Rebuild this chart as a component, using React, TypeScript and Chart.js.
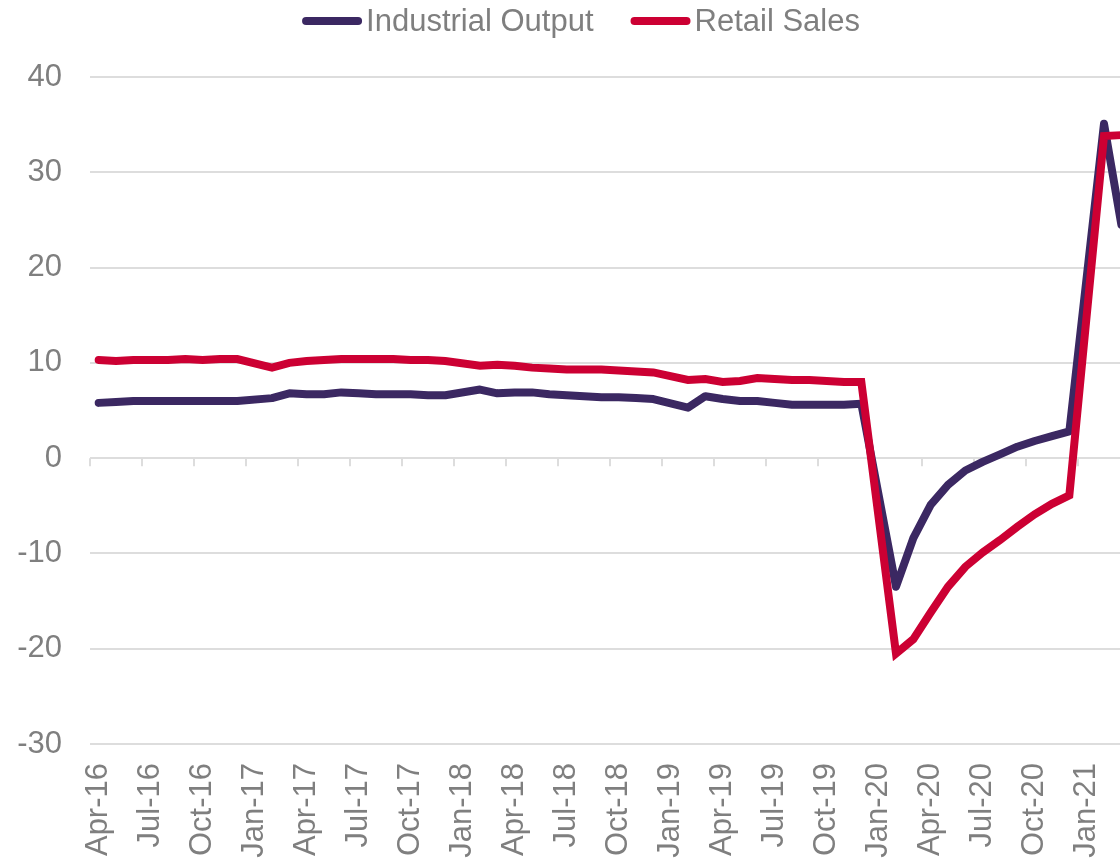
import React, { useEffect, useRef } from "react";
import { Chart, registerables } from "chart.js";

Chart.register(...registerables);

const MONTHS = ["Jan", "Feb", "Mar", "Apr", "May", "Jun", "Jul", "Aug", "Sep", "Oct", "Nov", "Dec"];

// Categories: Apr-16 .. Mar-21
const categories: string[] = [];
for (let y = 16; y <= 21; y++) {
  for (let m = 0; m < 12; m++) {
    if (y === 16 && m < 3) continue;
    if (y === 21 && m > 2) continue;
    categories.push(`${MONTHS[m]}-${y}`);
  }
}

// Year-to-date growth (%); January has no separate figure (null)
const industrialOutput: (number | null)[] = [
  // 2016 Apr-Dec
  5.8, 5.9, 6.0, 6.0, 6.0, 6.0, 6.0, 6.0, 6.0,
  // 2017
  null, 6.3, 6.8, 6.7, 6.7, 6.9, 6.8, 6.7, 6.7, 6.7, 6.6, 6.6,
  // 2018
  null, 7.2, 6.8, 6.9, 6.9, 6.7, 6.6, 6.5, 6.4, 6.4, 6.3, 6.2,
  // 2019
  null, 5.3, 6.5, 6.2, 6.0, 6.0, 5.8, 5.6, 5.6, 5.6, 5.6, 5.7,
  // 2020
  null, -13.5, -8.4, -4.9, -2.8, -1.3, -0.4, 0.4, 1.2, 1.8, 2.3, 2.8,
  // 2021
  null, 35.1, 24.5,
];

const retailSales: (number | null)[] = [
  // 2016 Apr-Dec
  10.3, 10.2, 10.3, 10.3, 10.3, 10.4, 10.3, 10.4, 10.4,
  // 2017
  null, 9.5, 10.0, 10.2, 10.3, 10.4, 10.4, 10.4, 10.4, 10.3, 10.3, 10.2,
  // 2018
  null, 9.7, 9.8, 9.7, 9.5, 9.4, 9.3, 9.3, 9.3, 9.2, 9.1, 9.0,
  // 2019
  null, 8.2, 8.3, 8.0, 8.1, 8.4, 8.3, 8.2, 8.2, 8.1, 8.0, 8.0,
  // 2020
  null, -20.5, -19.0, -16.2, -13.5, -11.4, -9.9, -8.6, -7.2, -5.9, -4.8, -3.9,
  // 2021
  null, 33.8, 33.9,
];

const seriesNames = ["Industrial Output", "Retail Sales"];
const seriesColors = ["#3b2862", "#cc0033"];

const FONT = "'Liberation Sans', Arial, sans-serif";
const TEXT_COLOR = "#7f7f7f";
const GRID_COLOR = "#dddddd";

const legendPlugin = {
  id: "customLegend",
  afterDraw(chart: any) {
    const ctx = chart.ctx;
    ctx.save();
    ctx.font = `31px ${FONT}`;
    const lineLen = 60;
    const gapText = 4;
    const gapItem = 37;
    const widths = seriesNames.map((n) => lineLen + gapText + ctx.measureText(n).width);
    const total = widths.reduce((a, b) => a + b, 0) + gapItem * (widths.length - 1);
    let x = 581 - total / 2;
    const y = 21;
    seriesNames.forEach((name, i) => {
      ctx.strokeStyle = seriesColors[i];
      ctx.lineWidth = 8;
      ctx.lineCap = "round";
      ctx.beginPath();
      ctx.moveTo(x + 4, y);
      ctx.lineTo(x + lineLen - 4, y);
      ctx.stroke();
      ctx.fillStyle = TEXT_COLOR;
      ctx.textBaseline = "alphabetic";
      ctx.textAlign = "left";
      ctx.fillText(name, x + lineLen + gapText, y + 10);
      x += widths[i] + gapItem;
    });
    ctx.restore();
  },
};

const zeroTicksPlugin = {
  id: "zeroTicks",
  beforeDatasetsDraw(chart: any) {
    const xs = chart.scales.x;
    const ys = chart.scales.y;
    const ctx = chart.ctx;
    const half = (xs.getPixelForValue(1) - xs.getPixelForValue(0)) / 2;
    const y0 = ys.getPixelForValue(0);
    ctx.save();
    ctx.strokeStyle = GRID_COLOR;
    ctx.lineWidth = 2;
    for (let i = 0; i <= categories.length; i += 3) {
      const x = Math.round(xs.getPixelForValue(i) - half);
      ctx.beginPath();
      ctx.moveTo(x, y0);
      ctx.lineTo(x, y0 + 8);
      ctx.stroke();
    }
    ctx.restore();
  },
};

export default function App() {
  const canvasRef = useRef<HTMLCanvasElement | null>(null);

  useEffect(() => {
    if (!canvasRef.current) return;
    const chart = new Chart(canvasRef.current, {
      type: "line",
      data: {
        labels: categories,
        datasets: [
          {
            label: seriesNames[0],
            data: industrialOutput,
            borderColor: seriesColors[0],
            backgroundColor: seriesColors[0],
            borderWidth: 8,
            pointRadius: 0,
            tension: 0,
            spanGaps: true,
            borderCapStyle: "round",
            borderJoinStyle: "round",
            order: 1,
          },
          {
            label: seriesNames[1],
            data: retailSales,
            borderColor: seriesColors[1],
            backgroundColor: seriesColors[1],
            borderWidth: 8,
            pointRadius: 0,
            tension: 0,
            spanGaps: true,
            borderCapStyle: "round",
            borderJoinStyle: "miter",
            order: 0,
          },
        ],
      },
      options: {
        animation: false,
        responsive: true,
        maintainAspectRatio: false,
        layout: { padding: { top: 77, left: 0, right: 10, bottom: 0 } },
        plugins: {
          legend: { display: false },
          tooltip: { enabled: false },
        },
        scales: {
          x: {
            type: "category",
            offset: true,
            grid: { display: false, drawTicks: false, offset: true },
            border: { display: false },
            ticks: {
              autoSkip: false,
              maxRotation: 90,
              minRotation: 90,
              padding: 19,
              color: TEXT_COLOR,
              font: { family: FONT, size: 31 },
              callback: (_v: any, idx: number) => (idx % 3 === 0 ? categories[idx] : ""),
            },
            afterFit: (s: any) => {
              s.height = 156;
              s.paddingLeft = 0;
              s.paddingRight = 0;
            },
          },
          y: {
            min: -30,
            max: 40,
            grid: { color: GRID_COLOR, lineWidth: 2, drawTicks: false },
            border: { display: false },
            ticks: {
              stepSize: 10,
              padding: 28,
              color: TEXT_COLOR,
              font: { family: FONT, size: 31 },
            },
            afterFit: (s: any) => {
              s.width = 90;
              s.paddingTop = 0;
              s.paddingBottom = 0;
            },
          },
        },
      },
      plugins: [zeroTicksPlugin, legendPlugin],
    });
    return () => chart.destroy();
  }, []);

  return (
    <div
      style={{
        position: "fixed",
        left: 0,
        top: 0,
        width: 1120,
        height: 861,
        overflow: "hidden",
        background: "#ffffff",
      }}
    >
      <div style={{ position: "relative", width: 1140, height: 900 }}>
        <canvas ref={canvasRef} />
      </div>
    </div>
  );
}
